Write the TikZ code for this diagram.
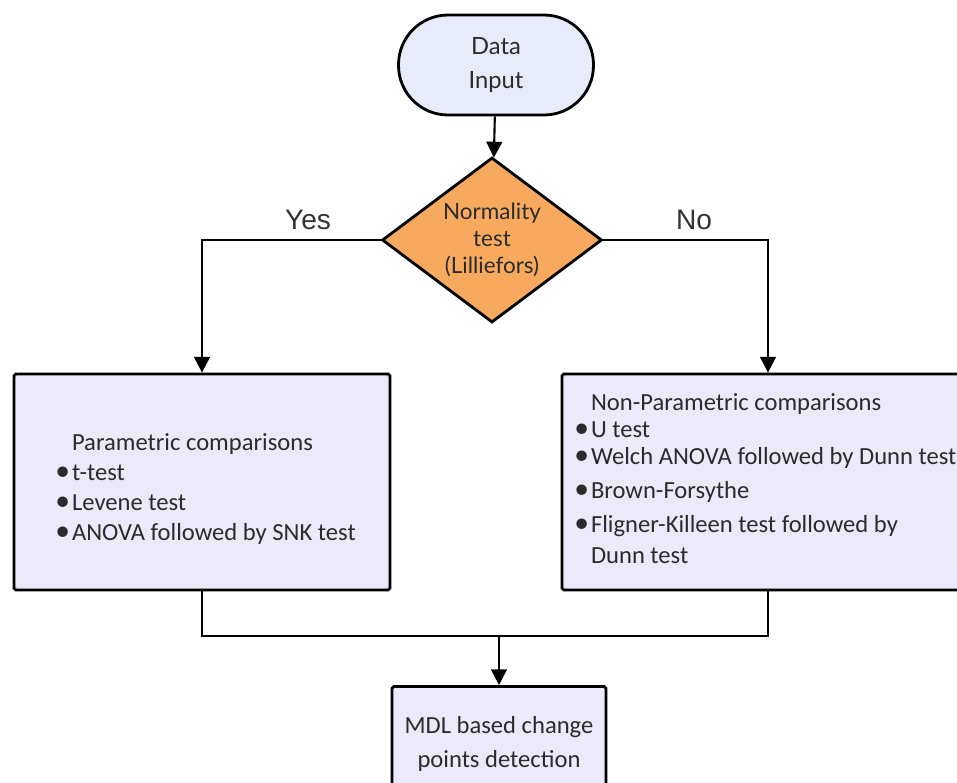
\documentclass[tikz,border=0pt]{standalone}
\usepackage{fontspec}
\setmainfont{Carlito}
\newfontfamily\latofont{Lato}
\newfontfamily\arialfont{Liberation Sans}
\usepackage{tikz}
\usetikzlibrary{arrows.meta,positioning,shapes.geometric}
\definecolor{termfill}{HTML}{E8ECFA}
\definecolor{boxfill}{HTML}{ECE9FB}
\definecolor{decfill}{HTML}{F7AA5E}
\definecolor{lblgray}{HTML}{333333}
\definecolor{txtdark}{HTML}{2B2B2B}
\newcommand{\itm}{\makebox[9.5pt][l]{\scalebox{1.2}{\textbullet}}}

\begin{document}
\begin{tikzpicture}[x=0.02cm,y=-0.02cm,
  lbl/.style={font=\arialfont\fontsize{16}{18}\selectfont,text=lblgray},
  term/.style={draw,line width=1.6pt,fill=termfill,rounded corners=0.99cm,minimum width=3.9cm,minimum height=2cm,align=center,text=txtdark,font=\latofont\fontsize{13.5}{19}\selectfont},
  decision/.style={draw,diamond,line width=1.6pt,fill=decfill,inner sep=0pt,minimum width=4.4cm,minimum height=3.3cm,aspect=1.33,align=center,text=txtdark,font=\latofont\fontsize{12.8}{15.4}\selectfont},
  box/.style={draw,line width=1.6pt,fill=boxfill,rounded corners=1pt,text=txtdark},
  list/.style={align=left,inner sep=0pt,text=txtdark,font=\fontsize{14}{15.4}\selectfont},
  wire/.style={line width=1.2pt},
  arr/.style={wire,-{Triangle[width=9pt,length=9pt]}}]

\useasboundingbox (0,0) rectangle (957,782);
\clip (0,0) rectangle (957,782);

% --- start and decision -----------------------------------------------
\node[term] (input) at (496,65) {Data\\Input};
\node[decision] (test) at (492,240) {Normality\\test\\(Lilliefors)};
\draw[arr] (input) -- (test);

% --- parametric branch ------------------------------------------------
\node[box,minimum width=7.52cm,minimum height=4.32cm] (param) at (202,482) {};
\node[list,anchor=west] (paramtxt) at (55,489) {\hspace*{9.5pt}Parametric comparisons\\[1.6pt]
  \itm t-test\\[1.6pt]
  \itm Levene test\\[1.6pt]
  \itm ANOVA followed by SNK test};
\draw[arr] (test.west) -| (param.north);
\node[lbl] (yes) at (308,220) {Yes};

% --- non-parametric branch --------------------------------------------
\node[box,minimum width=8.24cm,minimum height=4.32cm] (nonparam) at (768,482) {};
\node[list,anchor=west] (nonparamtxt) at (574,479) {\hspace*{9.5pt}Non-Parametric comparisons\\
  \itm U test\\
  \itm Welch ANOVA followed by Dunn test\\[4pt]
  \itm Brown-Forsythe\\[3.4pt]
  \itm Fligner-Killeen test followed by\\[2.8pt]
  \hspace*{9.5pt}Dunn test};
\draw[arr] (test.east) -| (nonparam.north);
\node[lbl] (no) at (694,220) {No};

% --- merge and result -------------------------------------------------
\node[box,minimum width=4.28cm,minimum height=2.3cm,align=center,
  font=\fontsize{14}{19}\selectfont] (mdl) at (499,744) {MDL based change\\points detection};
\coordinate (join) at (mdl.north |- 0,636);
\draw[wire] (param.south) |- (join) -| (nonparam.south);
\draw[arr] (join) -- (mdl.north);
\end{tikzpicture}
\end{document}
